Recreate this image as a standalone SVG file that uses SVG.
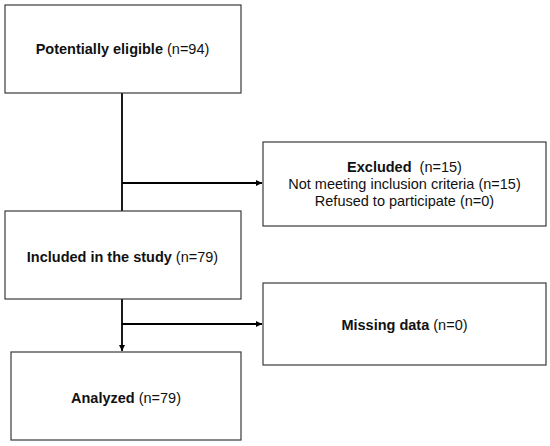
<svg xmlns="http://www.w3.org/2000/svg" width="550" height="446" viewBox="0 0 550 446">
<style>
.box{fill:#fff;stroke:#3a3a3a;stroke-width:1.2}
.t{font-family:"Liberation Sans",Arial,sans-serif;font-size:14.5px;fill:#111;text-anchor:middle}
.b{font-weight:bold}
.c{stroke:#000;stroke-width:1.8;fill:none}
</style>
<defs>
<marker id="ah" viewBox="0 0 6 6" refX="6" refY="3" markerWidth="3.5" markerHeight="3.5" orient="auto" markerUnits="strokeWidth">
<path d="M0,0 L6,3 L0,6 z" fill="#000"/>
</marker>
</defs>
<rect width="550" height="446" fill="#fff"/>
<g id="connectors">
<path class="c" d="M122,93 V211"/>
<path class="c" d="M122,183 H262" marker-end="url(#ah)"/>
<path class="c" d="M122,299 V351" marker-end="url(#ah)"/>
<path class="c" d="M122,324 H262" marker-end="url(#ah)"/>
</g>
<g id="eligible">
<rect class="box" x="5" y="5" width="236" height="88"/>
<text class="t" x="122.5" y="53.5"><tspan class="b">Potentially eligible</tspan> (n=94)</text>
</g>
<g id="excluded">
<rect class="box" x="263" y="142" width="283" height="84"/>
<text class="t" x="404.5" y="171.5" xml:space="preserve"><tspan class="b">Excluded</tspan>  (n=15)</text>
<text class="t" x="404.5" y="188.5">Not meeting inclusion criteria (n=15)</text>
<text class="t" x="404.5" y="205.5">Refused to participate (n=0)</text>
</g>
<g id="included">
<rect class="box" x="5" y="211" width="236" height="88"/>
<text class="t" x="122.5" y="262"><tspan class="b">Included in the study</tspan> (n=79)</text>
</g>
<g id="missing">
<rect class="box" x="263" y="283" width="283" height="82"/>
<text class="t" x="404.5" y="329.5"><tspan class="b">Missing data</tspan> (n=0)</text>
</g>
<g id="analyzed">
<rect class="box" x="11" y="352" width="230" height="88"/>
<text class="t" x="126" y="402.5"><tspan class="b">Analyzed</tspan> (n=79)</text>
</g>
</svg>
